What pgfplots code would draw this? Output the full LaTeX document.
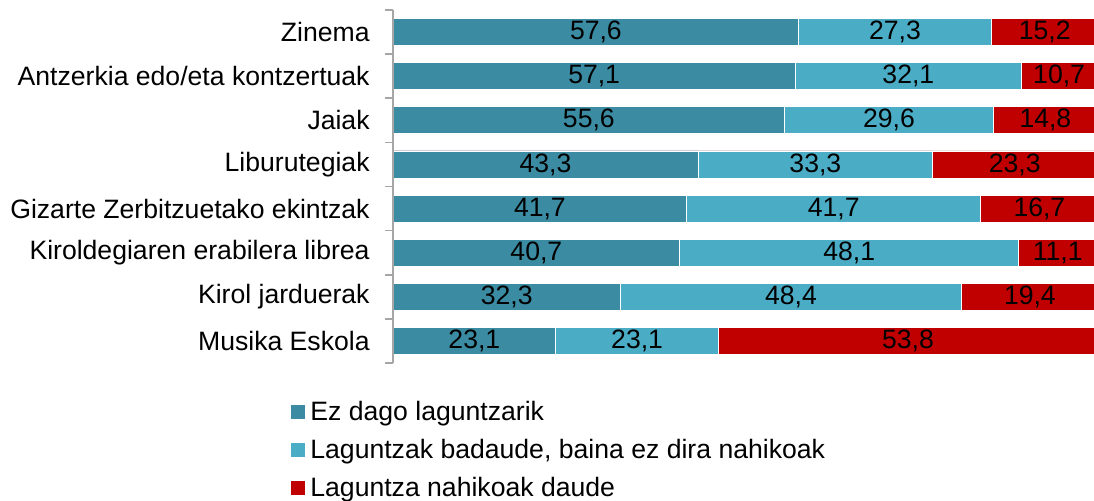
\documentclass[border=0pt]{standalone}
\usepackage{fontspec}
\setmainfont{Liberation Sans}
\usepackage{pgfplots}
\usepackage{pgfplotstable}
\pgfplotsset{compat=1.18}

\definecolor{ezdago}{HTML}{3B8BA3}
\definecolor{badaude}{HTML}{4BACC6}
\definecolor{nahikoak}{HTML}{C00000}
\definecolor{axisgray}{HTML}{A6A6A6}

% idx: row from top; a = Ez dago, b = Laguntzak badaude, c = nahikoak
\pgfplotstableread{
idx a b c
1 57.6 27.3 15.2
2 57.1 32.1 10.7
3 55.6 29.6 14.8
4 43.3 33.3 23.3
5 41.7 41.7 16.7
6 40.7 48.1 11.1
7 32.3 48.4 19.4
8 23.1 23.1 53.8
}\datatable

\newcommand{\chartfont}{\fontsize{13.3}{16}\selectfont}

\pgfplotsset{
  segbar/.style={xbar, bar width=13.5pt, bar shift=0pt, draw=white, line width=0.4pt,
    legend image code/.code={\fill[##1, draw=none] (0pt,-3.5pt) rectangle (7pt,3.5pt);}},
  seglabel/.style={draw=none, mark=none, forget plot, nodes near coords,
    point meta=explicit, nodes near coords align=center,
    every node near coord/.append style={font=\chartfont, text=black, inner sep=0pt}},
}

\begin{document}
\begin{tikzpicture}
\useasboundingbox (0,0) rectangle (547pt,250pt);
\begin{axis}[
    at={(196.5pt,68.5pt)}, anchor=south west,
    scale only axis, width=350.5pt, height=176.5pt,
    xmin=0, xmax=99.5, ymin=0.5, ymax=8.5, y dir=reverse,
    axis x line=none, axis y line*=left,
    axis on top,
    y axis line style={axisgray, line width=0.8pt, -},
    ytick={1,...,8},
    yticklabels={Zinema, Antzerkia edo/eta kontzertuak, Jaiak, Liburutegiak,
      Gizarte Zerbitzuetako ekintzak, Kiroldegiaren erabilera librea,
      Kirol jarduerak, Musika Eskola},
    minor ytick={0.5,1.5,...,8.5},
    tick align=outside, major tick length=0pt, minor tick length=4pt,
    minor y tick style={axisgray, line width=0.8pt},
    yticklabel style={font=\chartfont, inner sep=0pt, xshift=-11.5pt},
    /pgf/number format/use comma, /pgf/number format/fixed,
    /pgf/number format/fixed zerofill, /pgf/number format/precision=1,
    /pgf/number format/assume math mode=true,
    reverse legend,
    legend style={at={(-0.1455,-0.099)}, anchor=north west, draw=none, fill=none,
      font=\chartfont, inner sep=0pt, row sep=4.8pt,
      nodes={inner xsep=2.5pt, inner ysep=1.5pt}},
    legend cell align=left,
]
% total bars drawn first, shorter ones on top
\addplot[segbar, fill=nahikoak] table[x expr=\thisrow{a}+\thisrow{b}+\thisrow{c}, y=idx] {\datatable};
\addlegendentry{Laguntza nahikoak daude}
\addplot[segbar, fill=badaude] table[x expr=\thisrow{a}+\thisrow{b}, y=idx] {\datatable};
\addlegendentry{Laguntzak badaude, baina ez dira nahikoak}
\addplot[segbar, fill=ezdago] table[x=a, y=idx] {\datatable};
\addlegendentry{Ez dago laguntzarik}

% value labels, centred in each segment
\addplot[seglabel] table[x expr=\thisrow{a}/2, y=idx, meta=a] {\datatable};
\addplot[seglabel] table[x expr=\thisrow{a}+\thisrow{b}/2, y=idx, meta=b] {\datatable};
\addplot[seglabel] table[x expr=\thisrow{a}+\thisrow{b}+\thisrow{c}/2, y=idx, meta=c] {\datatable};
\end{axis}
\end{tikzpicture}
\end{document}
